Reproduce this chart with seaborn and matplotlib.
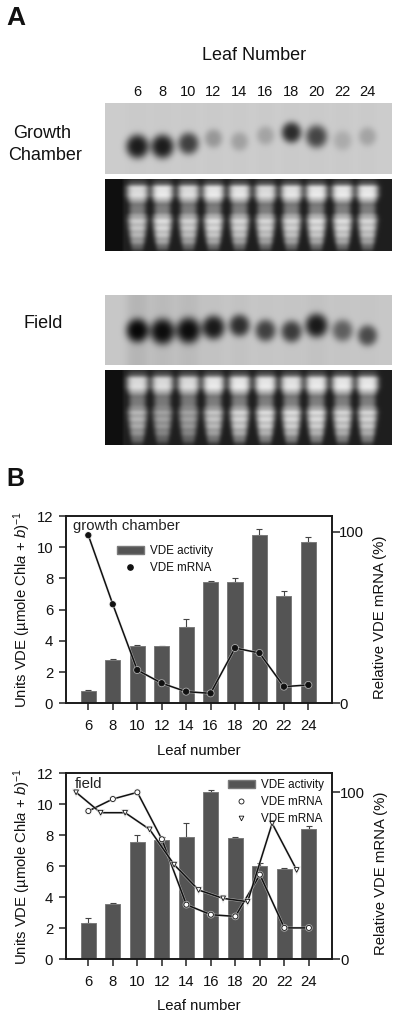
import numpy as np
import matplotlib
matplotlib.use("Agg")
import matplotlib.pyplot as plt
import matplotlib.patheffects as pe
from matplotlib.lines import Line2D
from matplotlib.patches import Patch
import seaborn as sns

W, H = 400, 1014

leaf = [6, 8, 10, 12, 14, 16, 18, 20, 22, 24]
leaf_odd = [5, 7, 9, 11, 13, 15, 17, 19, 21, 23]

# panel B, growth chamber
gc_activity = [0.8, 2.8, 3.7, 3.65, 4.9, 7.8, 7.8, 10.8, 6.9, 10.35]
gc_err = [0.03, 0.03, 0.02, 0.03, 0.5, 0.02, 0.2, 0.35, 0.3, 0.3]
gc_mrna = [97.9, 57.7, 19.4, 11.7, 6.8, 5.8, 32.2, 29.3, 9.7, 10.7]

# panel B, field
field_activity = [2.35, 3.6, 7.55, 7.7, 7.9, 10.8, 7.85, 6.0, 5.85, 8.4]
field_err = [0.3, 0.05, 0.45, 0.2, 0.9, 0.1, 0.02, 0.2, 0.02, 0.2]
field_mrna_a = [88.8, 96.0, 100, 71.9, 32.7, 26.7, 25.7, 50.7, 18.8, 18.8]
field_mrna_b = [100, 87.8, 87.8, 77.8, 56.7, 41.5, 36.5, 34.5, 81.4, 53.5]

# panel A, lanes read from the blots (pixels inside each image)
lane_x = [32, 57, 83, 108, 134, 160, 186, 211, 237, 262]
gc_band_y = [43, 43, 40, 35, 38, 32, 29, 33, 37, 33]
gc_band_dark = [0.68, 0.68, 0.54, 0.2, 0.16, 0.15, 0.62, 0.52, 0.12, 0.15]
gc_band_w = [11.5, 11.5, 10.5, 9, 9, 9, 10, 11, 9.5, 9]
field_band_y = [35, 36, 35, 32, 30, 35, 36, 30, 35, 40]
field_band_dark = [0.68, 0.68, 0.68, 0.66, 0.58, 0.52, 0.54, 0.66, 0.40, 0.48]
field_band_w = [11.5, 12.5, 12.5, 11.5, 10.5, 10.5, 10.5, 11.5, 10.5, 10]
field_smear = [0.07, 0.05, 0.05, 0.02, 0.02, 0.01, 0.01, 0.02, 0.01, 0.01]
gc_gel_upper = [0.75, 0.8, 0.75, 0.8, 0.78, 0.75, 0.78, 0.8, 0.8, 0.8]
gc_gel_lower = [0.68, 0.75, 0.7, 0.75, 0.72, 0.72, 0.72, 0.75, 0.75, 0.72]
field_gel_upper = [0.75, 0.75, 0.75, 0.8, 0.8, 0.8, 0.78, 0.8, 0.8, 0.8]
field_gel_lower = [0.6, 0.52, 0.52, 0.66, 0.72, 0.75, 0.75, 0.75, 0.72, 0.72]


def blur(img, n=3):
    kernel = np.ones(n) / n
    pad = np.pad(img, n, mode="edge")
    pad = np.apply_along_axis(lambda r: np.convolve(r, kernel, mode="same"), 0, pad)
    pad = np.apply_along_axis(lambda r: np.convolve(r, kernel, mode="same"), 1, pad)
    return pad[n:-n, n:-n]


def blot_image(h, w, ys, darks, widths, smear, bg):
    yy, xx = np.mgrid[0:h, 0:w]
    img = np.full((h, w), bg, dtype=float)
    for cx, cy, d, sx, s in zip(lane_x, ys, darks, widths, smear):
        dx = (xx - cx) / sx
        dy = (yy - cy) / (sx * 1.05)
        img -= d * np.exp(-(dx**2 + dy**2) ** 1.7)
        img -= s * np.exp(-np.abs(dx) ** 3)
    return blur(np.clip(img, 0, 1))


def gel_image(h, w, upper, lower, scale=1.0):
    yy, xx = np.mgrid[0:h, 0:w]
    img = np.full((h, w), 0.12, dtype=float)
    img[:, :18] = 0.06
    rows = np.array([0, 4, 8, 16, 20, 25, 33, 36, 40, 46, 54, 62, 68, 72]) * scale
    top = np.array([0.1, 0.3, 0.95, 1, 0.65, 0.12, 0.05, 0, 0, 0, 0, 0, 0, 0])
    mid = np.array([0, 0, 0, 0, 0.1, 0.25, 0.25, 0.15, 0, 0, 0, 0, 0, 0])
    low = np.array([0, 0, 0, 0, 0, 0, 0.15, 0.55, 1.0, 1.0, 0.92, 0.72, 0.4, 0.1])
    half = np.array([10, 10.5, 11, 11, 10, 8.5, 8.5, 9.5, 10, 9.5, 8.5, 7.5, 6.5, 6])
    for cx, up, lo in zip(lane_x, upper, lower):
        dx = np.abs(xx - cx)
        hw = np.interp(yy, rows, half)
        prof = np.exp(-(dx / hw) ** 4)
        stripe = 0.94 + 0.06 * np.cos(yy * 0.9)
        val = up * np.interp(yy, rows, top) + np.interp(yy, rows, mid) + lo * np.interp(yy, rows, low) * stripe
        img += prof * val
    return blur(np.clip(img, 0, 1))


def px_axes(fig, x0, y0, x1, y1):
    return fig.add_axes([x0 / W, 1 - y1 / H, (x1 - x0) / W, (y1 - y0) / H])


def show_image(fig, img, x0, y0, x1, y1):
    ax = px_axes(fig, x0, y0, x1, y1)
    sns.heatmap(img, cmap="gray", vmin=0, vmax=1, cbar=False, xticklabels=False,
                yticklabels=False, ax=ax, rasterized=True)
    return ax


def bar_panel(fig, box, activity, err, ymax2, lines, note, note_xy, legend_xy, handles):
    ax = px_axes(fig, *box)
    df = {"leaf": leaf, "activity": activity}
    sns.barplot(data=df, x="leaf", y="activity", native_scale=True, width=0.62,
                color="#545454", saturation=1, edgecolor="#7a7a7a", linewidth=0.7,
                errorbar=None, ax=ax, zorder=2)
    ax.errorbar(leaf, activity, yerr=[np.zeros(len(err)), err], fmt="none", ecolor="#444444",
                elinewidth=0.8, capsize=2.5, capthick=0.8, zorder=1)
    ax.set_xlim(4.15, 25.91)
    ax.set_ylim(0, 12)
    ax.set_xticks(leaf)
    ax.set_yticks([0, 2, 4, 6, 8, 10, 12])
    ax.set_xlabel("Leaf number", fontsize=10.7)
    ax.set_ylabel("Units VDE (µmole Chl$\\mathit{a}$ + $\\mathit{b}$)$^{-1}$", fontsize=10.7)
    ax.yaxis.set_label_coords(-0.123, 0.5)
    ax.xaxis.set_label_coords(0.5, -0.215)
    ax.tick_params(axis="y", length=5, width=1.1, labelsize=10.7, pad=4, color="#222222", left=True)
    ax.tick_params(axis="x", length=5, width=1.1, labelsize=10.7, pad=6.5, color="#222222", bottom=True)
    ax.text(note_xy[0], note_xy[1], note, transform=ax.transAxes, fontsize=10.7, va="center", color="#222222")

    ax2 = ax.twinx()
    for xs, ys, marker, face, size in lines:
        sns.lineplot(x=xs, y=ys, marker=marker, color="#111111", markerfacecolor=face,
                     markeredgecolor="#111111", markeredgewidth=0.6, markersize=size,
                     linewidth=1.1, estimator=None, errorbar=None, legend=False, ax=ax2)
        # light edge the lines have where they cross the bars
        ax2.lines[-1].set_path_effects([pe.Stroke(linewidth=1.9, foreground="#dddddd", alpha=0.6), pe.Normal()])
    ax2.set_ylim(0, ymax2)
    ax2.set_yticks([0, 100])
    ax2.set_ylabel("Relative VDE mRNA (%)", fontsize=10.7)
    ax2.yaxis.set_label_coords(1.155, 0.46)
    ax2.tick_params(axis="y", length=5.5, width=1.1, labelsize=10.7, pad=0, color="#222222", right=True)
    ax2.legend(handles=handles, loc="upper left", bbox_to_anchor=legend_xy, frameon=False,
               fontsize=8.4, borderaxespad=0, borderpad=0, handlelength=2.3,
               handletextpad=0.55, labelspacing=0.42)
    for a in (ax, ax2):
        for s in a.spines.values():
            s.set_visible(True)
            s.set_linewidth(1.2)
            s.set_color("#1a1a1a")


sns.set_theme(style="white")
plt.rcParams["font.family"] = ["Liberation Sans", "DejaVu Sans"]
plt.rcParams["mathtext.fontset"] = "custom"
plt.rcParams["mathtext.rm"] = "Liberation Sans"
plt.rcParams["mathtext.it"] = "Liberation Sans:italic"
plt.rcParams["text.color"] = "#111111"
plt.rcParams["axes.labelcolor"] = "#111111"
plt.rcParams["xtick.labelcolor"] = "#111111"
plt.rcParams["ytick.labelcolor"] = "#111111"

fig = plt.figure(figsize=(W / 100, H / 100), dpi=100)

show_image(fig, blot_image(71, 287, gc_band_y, gc_band_dark, gc_band_w, [0.01] * 10, 0.80), 105, 103, 392, 174)
show_image(fig, gel_image(72, 287, gc_gel_upper, gc_gel_lower), 105, 179, 392, 251)
show_image(fig, blot_image(70, 287, field_band_y, field_band_dark, field_band_w, field_smear, 0.78), 105, 295, 392, 365)
show_image(fig, gel_image(75, 287, field_gel_upper, field_gel_lower, scale=75 / 72), 105, 370, 392, 445)

def fig_text(x, y, s, size, **kw):
    fig.text(x / W, 1 - y / H, s, fontsize=size, ha="center", va="center", **kw)

fig_text(16, 18, "A", 19, fontweight="bold")
fig_text(15, 479, "B", 18, fontweight="bold")
fig_text(254, 55, "Leaf Number", 13)
fig_text(42, 134, "Growth", 13)
fig_text(45, 155, "Chamber", 13)
fig_text(43, 323, "Field", 13)
for cx, lab in zip(lane_x, leaf):
    fig_text(105 + cx, 92.5, str(lab), 10.5)

gc_handles = [
    Patch(facecolor="#545454", edgecolor="#7a7a7a", label="VDE activity"),
    Line2D([], [], ls="none", marker="o", ms=3.8, color="#111111", label="VDE mRNA"),
]
bar_panel(fig, (65.7, 516, 331.7, 703.3), gc_activity, gc_err, 109.1,
          [(leaf, gc_mrna, "o", "#111111", 3.8)],
          "growth chamber", (0.028, 0.945), (0.193, 0.845), gc_handles)

field_handles = [
    Patch(facecolor="#545454", edgecolor="#7a7a7a", label="VDE activity"),
    Line2D([], [], ls="none", marker="o", ms=3.6, mfc="white", mec="#111111", mew=0.6, label="VDE mRNA"),
    Line2D([], [], ls="none", marker="v", ms=3.4, mfc="white", mec="#111111", mew=0.6, label="VDE mRNA"),
]
bar_panel(fig, (65.7, 773.3, 332.3, 959.3), field_activity, field_err, 111.4,
          [(leaf, field_mrna_a, "o", "white", 3.6), (leaf_odd, field_mrna_b, "v", "white", 3.4)],
          "field", (0.035, 0.945), (0.609, 0.969), field_handles)

fig.savefig("out.png", dpi=100)
